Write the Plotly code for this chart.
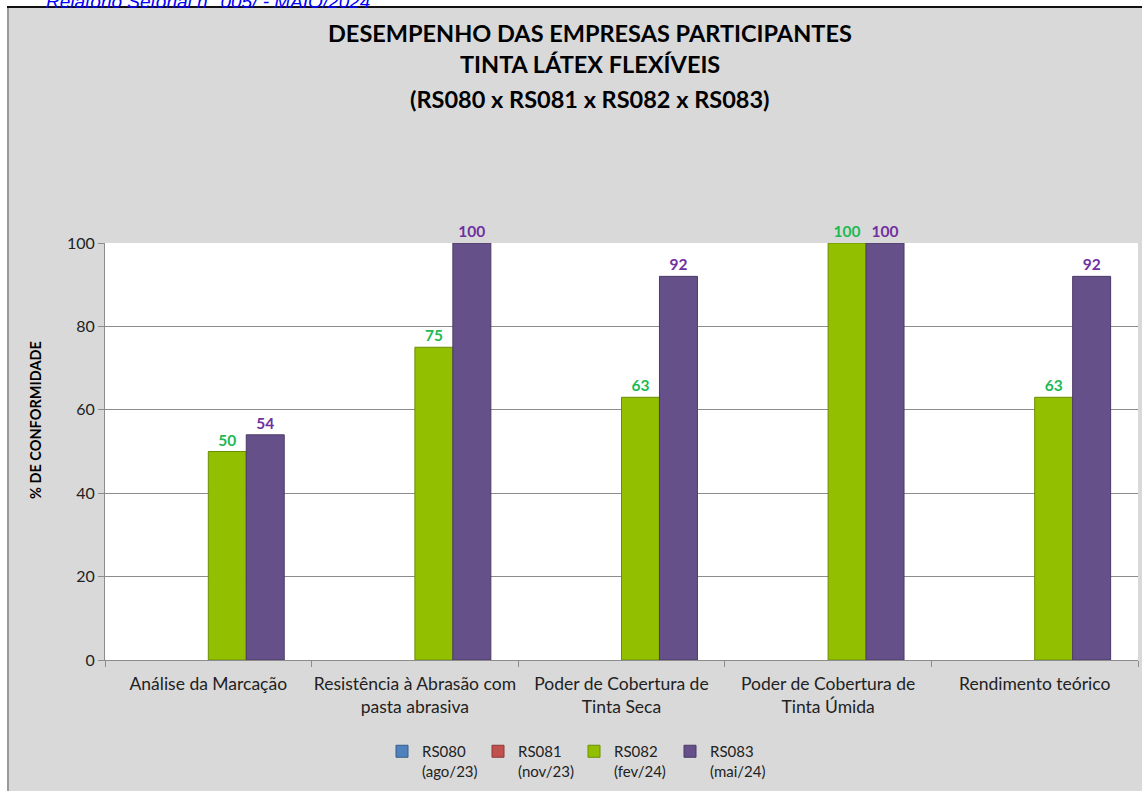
import plotly.graph_objects as go

categories = [
    "Análise da Marcação",
    "Resistência à Abrasão com<br>pasta abrasiva",
    "Poder de Cobertura de<br>Tinta Seca",
    "Poder de Cobertura de<br>Tinta Úmida",
    "Rendimento teórico",
]
series_names = ["RS080<br>(ago/23)", "RS081<br>(nov/23)", "RS082<br>(fev/24)", "RS083<br>(mai/24)"]
rs080 = [None, None, None, None, None]
rs081 = [None, None, None, None, None]
rs082 = [50, 75, 63, 100, 63]
rs083 = [54, 100, 92, 100, 92]
y_ticks = [0, 20, 40, 60, 80, 100]

W, H = 1142, 791
L, R, T, B = 105, 1138, 243, 660

def px_x(p):
    return (p - L) / (R - L)

def px_y(p):
    return (B - p) / (B - T)

FONT = "Lato, 'Noto Sans', sans-serif"

fill_cols = ["#4F81BD", "#C0504D", "#92C000", "#66508A"]
line_cols = ["#385D8A", "#8C3836", "#6B8E00", "#4A3A66"]
text_cols = ["#4F81BD", "#C0504D", "#1DB954", "#7030A0"]

fig = go.Figure()
for name, vals, fc, lc, tc in zip(series_names, [rs080, rs081, rs082, rs083], fill_cols, line_cols, text_cols):
    fig.add_trace(go.Bar(
        x=categories, y=vals, name=name,
        marker=dict(color=fc, line=dict(color=lc, width=1)),
        text=[("" if v is None else f"<b>{v}</b>") for v in vals],
        textposition="outside",
        textfont=dict(color=tc, size=15.5, family=FONT),
        cliponaxis=False,
    ))

shapes = [
    dict(type="rect", xref="paper", yref="paper", x0=px_x(8), x1=px_x(W + 5), y0=px_y(H + 5), y1=px_y(7),
         fillcolor="#D9D9D9", line=dict(width=0), layer="below"),
    dict(type="rect", xref="paper", yref="paper", x0=0, x1=1, y0=0, y1=1,
         fillcolor="#FFFFFF", line=dict(width=0), layer="below"),
    dict(type="line", xref="paper", yref="paper", x0=px_x(8), x1=px_x(8), y0=px_y(H + 5), y1=px_y(7),
         line=dict(color="#9A9A9A", width=2)),
    dict(type="line", xref="paper", yref="paper", x0=px_x(7), x1=px_x(W + 5), y0=px_y(7), y1=px_y(7),
         line=dict(color="#111111", width=2)),
]

annotations = [
    dict(text="<b>DESEMPENHO DAS EMPRESAS PARTICIPANTES</b>", x=px_x(590), y=px_y(33)),
    dict(text="<b>TINTA LÁTEX FLEXÍVEIS</b>", x=px_x(590), y=px_y(64)),
    dict(text="<b>(RS080 x RS081 x RS082 x RS083)</b>", x=px_x(590), y=px_y(99)),
]
for a in annotations:
    a.update(xref="paper", yref="paper", showarrow=False, xanchor="center", yanchor="middle",
             font=dict(size=23.5, color="#000000", family=FONT))
annotations.append(dict(text="<b>% DE CONFORMIDADE</b>", x=px_x(35), y=px_y(420), xref="paper", yref="paper",
                        showarrow=False, textangle=-90, xanchor="center", yanchor="middle",
                        font=dict(size=14.5, color="#000000", family=FONT)))
annotations.append(dict(text="<i>Relatório Setorial n° 005/ - MAIO/2024</i>", x=px_x(372), y=px_y(14),
                        xref="paper", yref="paper", showarrow=False, xanchor="right", yanchor="bottom",
                        font=dict(size=19, color="#0000FF", family="Liberation Sans, Arial")))

fig.update_layout(
    width=W, height=H,
    margin=dict(l=L, r=W - R, t=T, b=H - B, pad=0, autoexpand=False),
    paper_bgcolor="#FFFFFF", plot_bgcolor="#FFFFFF",
    barmode="group", bargap=0.265, bargroupgap=0,
    font=dict(family=FONT, color="#222222"),
    shapes=shapes, annotations=annotations,
    showlegend=True,
    legend=dict(orientation="h", x=px_x(574), xanchor="center", y=px_y(735), yanchor="top",
                font=dict(size=15, color="#222222", family=FONT), valign="top",
                bgcolor="rgba(0,0,0,0)", itemwidth=30, tracegroupgap=0,
                entrywidth=51, entrywidthmode="pixels"),
    xaxis=dict(type="category", showgrid=False, showline=True, linecolor="#8C8C8C", linewidth=1,
               ticks="outside", tickson="boundaries", ticklen=6, tickcolor="#8C8C8C",
               ticklabelstandoff=8, tickangle=0,
               tickfont=dict(size=17.5, color="#222222", family=FONT)),
    yaxis=dict(range=[0, 100], tickvals=y_ticks, showgrid=True, gridcolor="#8C8C8C", gridwidth=1,
               showline=True, linecolor="#8C8C8C", linewidth=1, ticks="outside", ticklen=6,
               tickcolor="#8C8C8C", tickfont=dict(size=16, color="#222222", family=FONT), zeroline=False),
)

fig.write_html("out.html", config={"displayModeBar": False},
               post_script="document.body.style.margin='0px';")
